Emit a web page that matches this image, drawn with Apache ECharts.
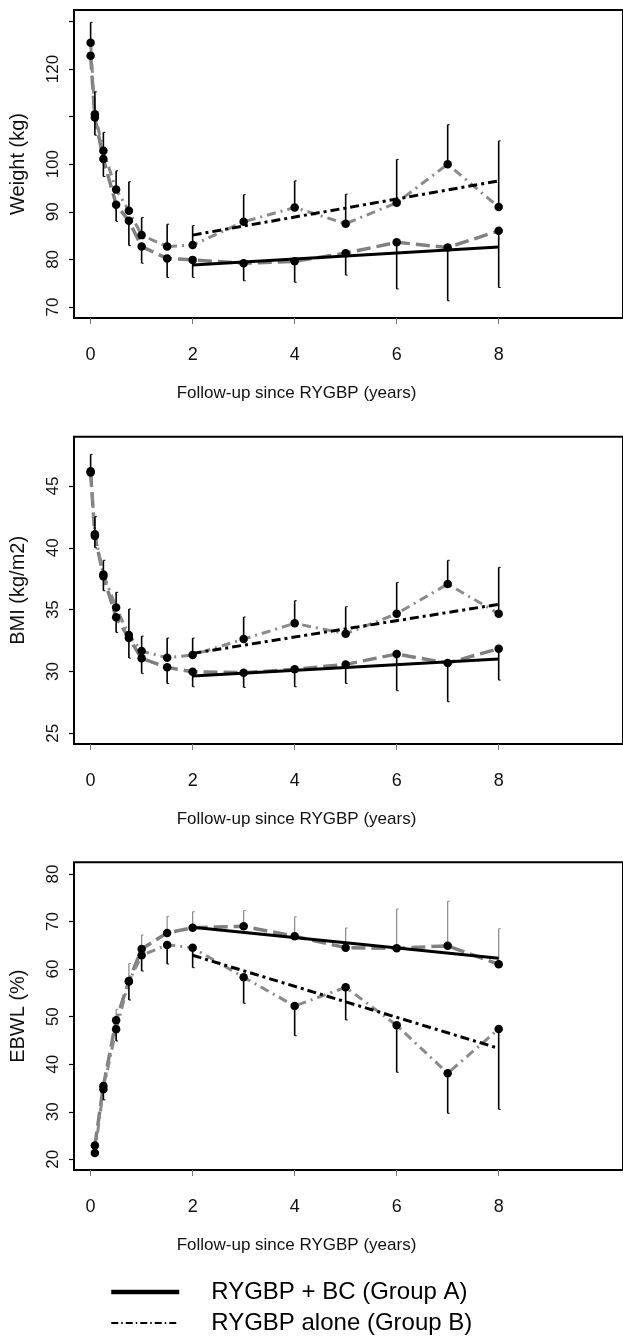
<!DOCTYPE html>
<html>
<head>
<meta charset="utf-8">
<script src="https://cdn.jsdelivr.net/npm/echarts@6/dist/echarts.min.js"></script>
<style>
html,body{margin:0;padding:0;background:#fff;}
#chart{width:623px;height:1338px;}
</style>
</head>
<body>
<div id="chart"></div>
<script>
// ---- data ----
const years = [0, 0.083, 0.25, 0.5, 0.75, 1, 1.5, 2, 3, 4, 5, 6, 7, 8];
const fitYears = [2, 8];

const weightA     = [122.8, 109.8, 101.1, 91.5, 88.1, 82.7, 80.2, 79.9, 79.2, 79.6, 81.3, 83.6, 82.5, 86.0];
const weightB     = [125.5, 110.5, 102.8, 94.7, 90.2, 85.1, 82.7, 83.0, 87.9, 90.9, 87.5, 91.9, 100.0, 91.0];
const weightALow  = [null, 106.1, 97.4, 88.0, 82.9, 79.2, 76.2, 76.2, 75.5, 75.2, 76.7, 73.8, 71.3, 74.1];
const weightBHigh = [129.8, 115.2, 106.7, 98.6, 96.3, 88.8, 87.4, 87.1, 93.6, 96.5, 93.7, 101.0, 108.3, 104.9];
const weightFitA  = [78.8, 82.6];
const weightFitB  = [85.1, 96.5];

const bmiA     = [46.1, 40.95, 37.7, 34.38, 32.70, 31.06, 30.33, 29.98, 29.9, 30.17, 30.57, 31.41, 30.68, 31.84];
const bmiB     = [46.2, 41.1, 37.85, 35.18, 32.94, 31.65, 31.11, 31.33, 32.62, 33.89, 33.05, 34.67, 37.07, 34.67];
const bmiALow  = [null, 40.0, 36.53, 33.16, 31.08, 29.84, 29.03, 28.76, 28.71, 28.76, 29.03, 28.44, 27.55, 29.30];
const bmiBHigh = [47.56, 42.52, 38.99, 36.4, 35.05, 32.86, 32.70, 32.70, 34.4, 35.72, 35.24, 37.2, 38.99, 38.42];
const bmiFitA  = [29.63, 31.0];
const bmiFitB  = [31.46, 35.43];

const ebwlA     = [null, 22.9, 35.4, 49.23, 57.5, 64.23, 67.6, 68.71, 69.0, 66.9, 64.5, 64.37, 64.9, 61.0];
const ebwlB     = [null, 21.3, 34.72, 47.34, 57.4, 62.9, 65.07, 64.5, 58.27, 52.24, 56.17, 48.18, 38.09, 47.4];
const ebwlAHigh = [null, null, 36.3, 51.55, 61.2, 67.17, 71.1, 72.07, 72.3, 71.0, 68.64, 72.64, 74.26, 68.5];
const ebwlBLow  = [null, null, 32.5, 44.88, 53.5, 59.6, 61.07, 60.3, 52.8, 45.99, 49.3, 38.3, 29.67, 30.5];
const ebwlFitA  = [68.79, 62.27];
const ebwlFitB  = [62.9, 43.34];

const xTicks = [0, 2, 4, 6, 8];
const weightTicks = [70, 80, 90, 100, 110, 120, 130];
const weightLabels = [70, 80, 90, 100, 120];
const bmiTicks = [25, 30, 35, 40, 45];
const ebwlTicks = [20, 30, 40, 50, 60, 70, 80];

const yNames = ['Weight (kg)', 'BMI (kg/m2)', 'EBWL (%)'];
const xName = 'Follow-up since RYGBP (years)';
const nameA = 'RYGBP + BC (Group A)';
const nameB = 'RYGBP alone (Group B)';

// ---- layout ----
const gridTops = [10, 436.7, 862.3];
const gridHeights = [308, 307.3, 307.7];
const yRanges = [[67.69, 132.39], [24.13, 48.99], [17.75, 82.46]];
const xMin = -0.326, xMax = 10.437;
const REG = '"Liberation Sans", Arial, sans-serif';

function pts(xs, ys) {
  const out = [];
  xs.forEach((x, i) => { if (ys[i] != null) out.push([x, ys[i]]); });
  return out;
}
function bars(xs, ms, es) {
  const out = [];
  xs.forEach((x, i) => { if (ms[i] != null && es[i] != null) out.push([x, ms[i], es[i]]); });
  return out;
}
function errSeries(idx, data, color, width) {
  return {
    type: 'custom', xAxisIndex: idx, yAxisIndex: idx, z: 3, silent: true,
    encode: { x: 0, y: 1 },
    data: data,
    renderItem: function (params, api) {
      const p1 = api.coord([api.value(0), api.value(1)]);
      const p2 = api.coord([api.value(0), api.value(2)]);
      return {
        type: 'group',
        children: [
          { type: 'line', shape: { x1: p1[0], y1: p1[1], x2: p2[0], y2: p2[1] }, style: { stroke: color, lineWidth: width } },
          { type: 'line', shape: { x1: p2[0], y1: p2[1], x2: p2[0] + 2, y2: p2[1] }, style: { stroke: color, lineWidth: 1 } }
        ]
      };
    }
  };
}
function obsLine(idx, ys, isA) {
  return {
    type: 'line', xAxisIndex: idx, yAxisIndex: idx, z: 1, silent: true,
    data: pts(years, ys), symbol: 'none', showSymbol: false,
    lineStyle: isA ? { color: '#808080', width: 3.5, type: [14, 6] }
                   : { color: '#8a8a8a', width: 3, type: [9, 5, 2, 5] }
  };
}
function dots(idx, ys) {
  return {
    type: 'scatter', xAxisIndex: idx, yAxisIndex: idx, z: 5, silent: true,
    data: pts(years, ys), symbol: 'circle', symbolSize: 8.5,
    itemStyle: { color: '#000', opacity: 1 }
  };
}
function fitLine(idx, ys, isA) {
  return {
    name: isA ? nameA : nameB,
    type: 'line', xAxisIndex: idx, yAxisIndex: idx, z: 4, silent: true,
    data: pts(fitYears, ys), symbol: 'none', showSymbol: false,
    itemStyle: { color: '#000' },
    lineStyle: isA ? { color: '#000', width: 3 } : { color: '#000', width: 3, type: [9, 4, 3, 4] }
  };
}

const grids = [], xAxes = [], yAxes = [];
const yTickSets = [weightTicks, bmiTicks, ebwlTicks];
const yLabelSets = [weightLabels, bmiTicks, ebwlTicks];
for (let i = 0; i < 3; i++) {
  grids.push({ left: 74, right: -12, top: gridTops[i], height: gridHeights[i], show: true,
               borderColor: '#000', borderWidth: 2, backgroundColor: 'transparent' });
  xAxes.push({
    type: 'value', gridIndex: i, min: xMin, max: xMax,
    axisLine: { show: false, onZero: false }, splitLine: { show: false },
    axisTick: { show: true, length: 6, customValues: xTicks, lineStyle: { color: '#777', width: 1 } },
    axisLabel: { show: true, customValues: xTicks, margin: 28, fontSize: 18, fontFamily: REG, color: '#111' }
  });
  yAxes.push({
    type: 'value', gridIndex: i, min: yRanges[i][0], max: yRanges[i][1],
    name: yNames[i], nameLocation: 'middle', nameRotate: 90, nameGap: 46,
    nameTextStyle: { fontSize: 20, fontFamily: REG, color: '#111' },
    axisLine: { show: false, onZero: false }, splitLine: { show: false },
    axisTick: { show: true, length: 5, customValues: yTickSets[i], lineStyle: { color: '#000', width: 1.2 } },
    axisLabel: { show: true, customValues: yLabelSets[i], rotate: 90, margin: 12, fontSize: 17, fontFamily: REG, color: '#111' }
  });
}

const series = [
  // panel 1: weight
  obsLine(0, weightA, true), obsLine(0, weightB, false),
  errSeries(0, bars(years, weightA, weightALow), '#000', 1.6),
  errSeries(0, bars(years, weightB, weightBHigh), '#000', 1.6),
  fitLine(0, weightFitA, true), fitLine(0, weightFitB, false),
  dots(0, weightA), dots(0, weightB),
  // panel 2: BMI
  obsLine(1, bmiA, true), obsLine(1, bmiB, false),
  errSeries(1, bars(years, bmiA, bmiALow), '#000', 1.6),
  errSeries(1, bars(years, bmiB, bmiBHigh), '#000', 1.6),
  fitLine(1, bmiFitA, true), fitLine(1, bmiFitB, false),
  dots(1, bmiA), dots(1, bmiB),
  // panel 3: EBWL
  obsLine(2, ebwlA, true), obsLine(2, ebwlB, false),
  errSeries(2, bars(years, ebwlA, ebwlAHigh), '#888', 1.2),
  errSeries(2, bars(years, ebwlB, ebwlBLow), '#000', 1.6),
  fitLine(2, ebwlFitA, true), fitLine(2, ebwlFitB, false),
  dots(2, ebwlA), dots(2, ebwlB)
];

const graphic = gridTops.map((t, i) => ({
  type: 'text', x: 296.5, y: t + gridHeights[i] + 75,
  style: { text: xName, fontSize: 17, fontFamily: REG, fill: '#111',
           textAlign: 'center', textVerticalAlign: 'middle' }
}));

const chart = echarts.init(document.getElementById('chart'), null, { renderer: 'canvas' });
chart.setOption({
  animation: false,
  backgroundColor: '#fff',
  grid: grids, xAxis: xAxes, yAxis: yAxes, series: series,
  graphic: graphic,
  legend: {
    orient: 'vertical', left: 109, top: 1279, padding: 0, itemWidth: 68, itemHeight: 14, itemGap: 5,
    selectedMode: false,
    textStyle: { fontSize: 24, fontFamily: REG, color: '#000', lineHeight: 26, padding: [0, 0, 0, 27] },
    data: [
      { name: nameA, itemStyle: { opacity: 0 }, lineStyle: { width: 4.5, color: '#000' } },
      { name: nameB, itemStyle: { opacity: 0 }, lineStyle: { width: 2, color: '#000', type: [7, 3, 1.5, 3] } }
    ]
  }
});
</script>
</body>
</html>
